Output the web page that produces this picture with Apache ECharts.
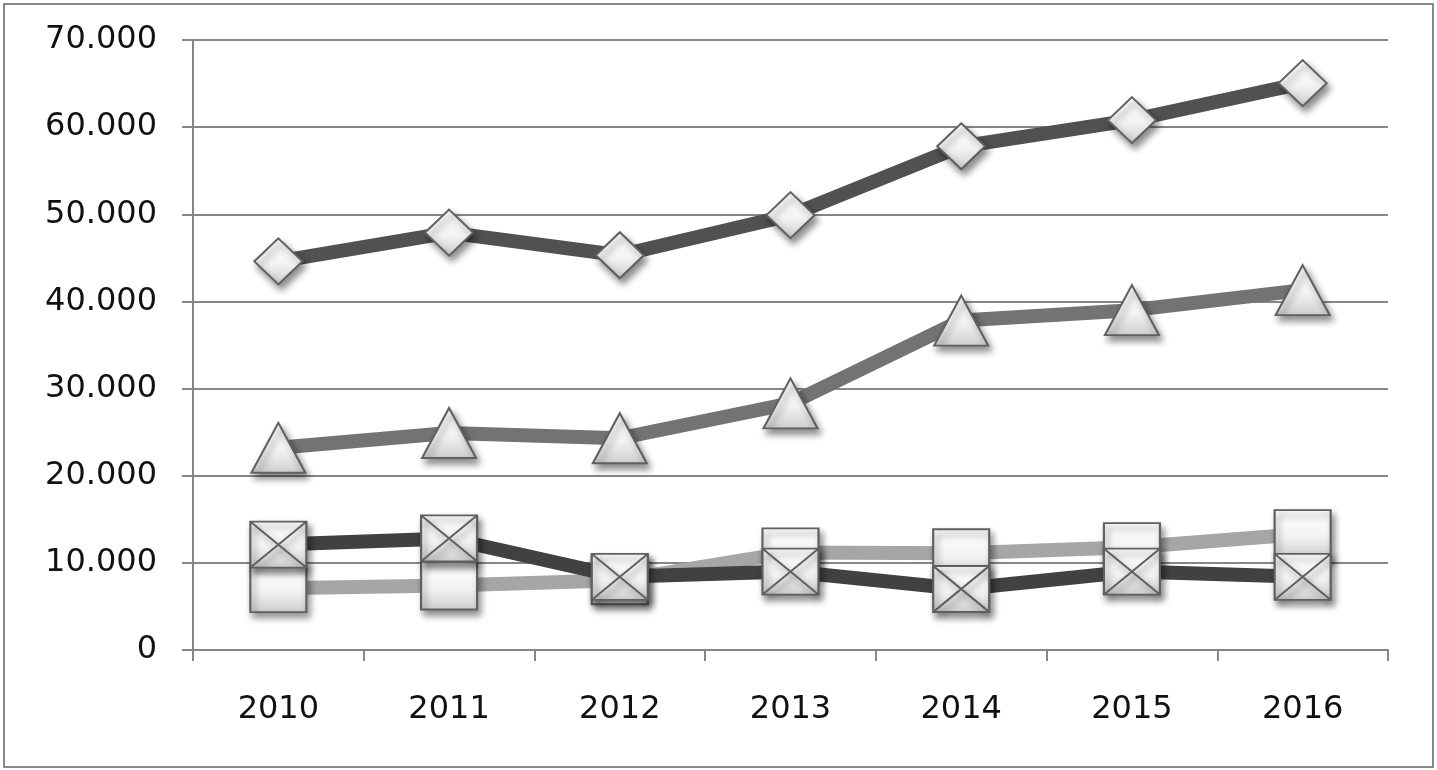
<!DOCTYPE html>
<html>
<head>
<meta charset="utf-8">
<script src="https://cdn.jsdelivr.net/npm/echarts@6/dist/echarts.min.js"></script>
<style>
html,body{margin:0;padding:0;background:#fff;}
#chart{width:1437px;height:770px;}
</style>
</head>
<body>
<div id="chart"></div>
<script>
const categories = ['2010', '2011', '2012', '2013', '2014', '2015', '2016'];
const diamondSeries = [44600, 47900, 45300, 49900, 57800, 60800, 65050];
const triangleSeries = [23200, 24900, 24300, 28300, 37800, 39000, 41300];
const crossBoxSeries = [12100, 12800, 8400, 9000, 7000, 9000, 8400];
const squareSeries = [7100, 7400, 8000, 11200, 11100, 11800, 13300];
const yTicks = [0, 10000, 20000, 30000, 40000, 50000, 60000, 70000];

function fmt(v) {
  if (v === 0) return '0';
  const th = Math.floor(v / 1000);
  const rest = String(v % 1000).padStart(3, '0');
  return th + '.' + rest;
}

const markerFill = {
  type: 'linear', x: 0, y: 0, x2: 0, y2: 1,
  colorStops: [
    { offset: 0, color: '#ffffff' },
    { offset: 0.55, color: '#f3f3f3' },
    { offset: 1, color: '#cdcdcd' }
  ]
};
const markerStyle = {
  color: markerFill,
  borderColor: '#606060',
  borderWidth: 2,
  shadowColor: 'rgba(0,0,0,0.45)',
  shadowBlur: 7,
  shadowOffsetX: 3,
  shadowOffsetY: 5
};

function lineSeries(name, data, color, symbol, size, z) {
  return {
    name: name,
    type: 'line',
    data: data,
    symbol: symbol,
    symbolSize: size,
    showSymbol: true,
    z: z,
    lineStyle: { color: color, width: 14 },
    itemStyle: Object.assign({}, markerStyle),
    emphasis: { disabled: true },
    animation: false
  };
}

const chart = echarts.init(document.getElementById('chart'), null, { renderer: 'canvas' });
chart.setOption({
  backgroundColor: '#ffffff',
  animation: false,
  textStyle: { fontFamily: 'DejaVu Sans' },
  graphic: [{
    type: 'rect',
    shape: { x: 4, y: 4, width: 1429, height: 763 },
    style: { fill: 'none', stroke: '#8a8a8a', lineWidth: 2 },
    silent: true
  }],
  grid: { left: 193, right: 49, top: 40, bottom: 120, containLabel: false },
  xAxis: {
    type: 'category',
    data: categories,
    boundaryGap: true,
    axisLine: { show: true, lineStyle: { color: '#868686', width: 2 } },
    axisTick: { show: true, length: 11, lineStyle: { color: '#868686', width: 2 } },
    axisLabel: { color: '#111', fontSize: 32, margin: 44, fontFamily: 'DejaVu Sans' },
    splitLine: { show: false }
  },
  yAxis: {
    type: 'value',
    min: 0,
    max: 70000,
    interval: 10000,
    axisLine: { show: true, lineStyle: { color: '#868686', width: 2 } },
    axisTick: { show: true, length: 11, lineStyle: { color: '#868686', width: 2 } },
    axisLabel: {
      color: '#111', fontSize: 32, margin: 36, fontFamily: 'DejaVu Sans',
      formatter: function (v) { return yTicks.indexOf(v) >= 0 ? fmt(v) : ''; }
    },
    splitLine: { show: true, lineStyle: { color: '#868686', width: 2 } }
  },
  series: [
    lineSeries('Diamond', diamondSeries, '#515151', 'diamond', [48, 46], 5),
    lineSeries('Triangle', triangleSeries, '#737373', 'triangle', [54, 50], 4),
    lineSeries('Square', squareSeries, '#a6a6a6', 'rect', [56, 48], 2),
    lineSeries('CrossBox', crossBoxSeries, '#414141',
      'path://M0,0 L10,0 L10,10 L0,10 Z M0,0 L10,10 M10,0 L0,10', [56, 46], 3)
  ]
});
</script>
</body>
</html>
